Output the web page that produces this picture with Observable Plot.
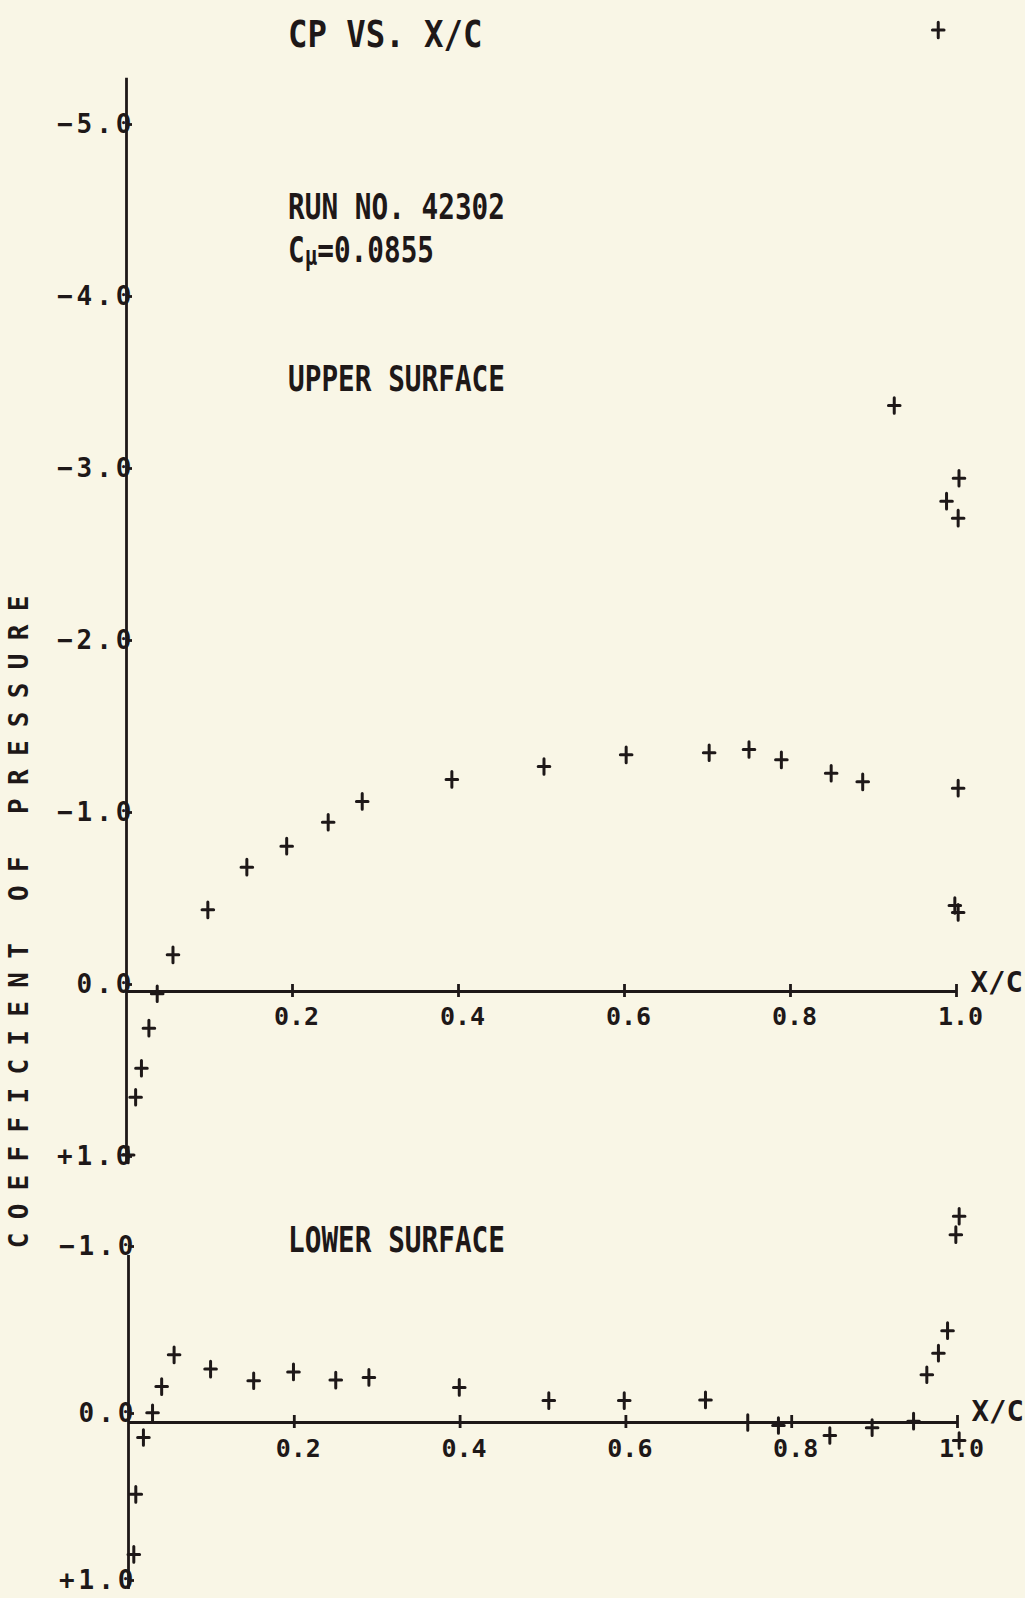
<!DOCTYPE html>
<html>
<head>
<meta charset="utf-8">
<script src="https://cdn.jsdelivr.net/npm/d3@7"></script>
<script src="https://cdn.jsdelivr.net/npm/@observablehq/plot@0.6"></script>
<style>
  html, body { margin: 0; padding: 0; background: #f9f6e6; }
  #page { position: relative; width: 1025px; height: 1598px; overflow: hidden; background: #f9f6e6; color: #1e1818; font-family: "DejaVu Sans Mono", monospace; font-weight: bold; }
  .ann { position: absolute; white-space: nowrap; line-height: 1; transform-origin: 0 0; }
  #upper, #lower { position: absolute; left: 0; }
  #upper { top: 0; }
  #lower { top: 1180px; }
  svg { overflow: visible; }
  svg text { font-weight: bold; }
  g[aria-label="y-axis tick label"] text { letter-spacing: 4px; }
  #ytitle { position: absolute; left: -381px; top: 909px; width: 800px; height: 26px; line-height: 26px; font-size: 26px; text-align: center; letter-spacing: 13.3px; padding-left: 13.3px; box-sizing: border-box; transform: rotate(-90deg); transform-origin: 50% 50%; white-space: nowrap; }
</style>
</head>
<body>
<div id="page">
  <div id="upper"></div>
  <div id="lower"></div>
  <div class="ann" id="title" style="left:288px; top:14.5px; font-size:38px; transform:scaleX(0.85);"></div>
  <div class="ann" id="run" style="left:288px; top:189px; font-size:36px; transform:scaleX(0.77);"></div>
  <div class="ann" id="cmu" style="left:288px; top:232px; font-size:36px; transform:scaleX(0.77);"></div>
  <div class="ann" id="upperLabel" style="left:288px; top:361px; font-size:36px; transform:scaleX(0.77);"></div>
  <div class="ann" id="lowerLabel" style="left:288px; top:1222px; font-size:36px; transform:scaleX(0.77);"></div>
  <div id="ytitle"></div>
</div>
<script>
// ---- text ----
const titleText = "CP VS. X/C";
const runText = "RUN NO. 42302";
const cmuBase = "C";
const cmuSub = "\u03bc";
const cmuValue = "=0.0855";
const upperLabelText = "UPPER SURFACE";
const lowerLabelText = "LOWER SURFACE";
const yTitleText = "COEFFICIENT OF PRESSURE";
const xAxisLabel = "X/C";

// ---- ticks ----
const xTicks = [0.2, 0.4, 0.6, 0.8, 1.0];
const upperYTicks = [-5, -4, -3, -2, -1, 0, 1];
const lowerYTicks = [-1, 0, 1];

// ---- data: upper surface (x/c, Cp) ----
const upperX  = [0.002, 0.011, 0.018, 0.027, 0.037, 0.056, 0.098, 0.145, 0.193, 0.243, 0.284, 0.392,
                 0.503, 0.602, 0.702, 0.750, 0.789, 0.849, 0.887, 1.002, 0.998, 1.002,
                 0.925, 1.003, 0.988, 1.002, 0.978];
const upperCp = [0.95, 0.615, 0.446, 0.213, 0.013, -0.213, -0.475, -0.723, -0.845, -0.984, -1.105, -1.233,
                 -1.308, -1.376, -1.388, -1.407, -1.347, -1.269, -1.219, -1.182, -0.50, -0.46,
                 -3.407, -2.984, -2.851, -2.752, -5.59];

// ---- data: lower surface (x/c, Cp) ----
const lowerX  = [0.0064, 0.0088, 0.018, 0.029, 0.040, 0.055, 0.099, 0.151, 0.199, 0.250, 0.290, 0.399,
                 0.507, 0.598, 0.696, 0.747, 0.784, 0.846, 0.897, 0.947, 0.963, 0.977, 0.988,
                 0.998, 1.002, 1.002];
const lowerCp = [0.79, 0.43, 0.09, -0.058, -0.215, -0.405, -0.32, -0.25, -0.303, -0.254, -0.27, -0.21,
                 -0.131, -0.131, -0.135, 0.0, 0.018, 0.078, 0.031, -0.008, -0.286, -0.415, -0.55,
                 -1.125, -1.235, 0.108];

const ink = "#1e1818";

document.getElementById("title").textContent = titleText;
document.getElementById("run").textContent = runText;
const cmu = document.getElementById("cmu");
cmu.append(cmuBase);
const sub = document.createElement("span");
sub.textContent = cmuSub;
sub.style.fontSize = "0.75em";
sub.style.verticalAlign = "-0.12em";
cmu.append(sub);
cmu.append(cmuValue);
document.getElementById("upperLabel").textContent = upperLabelText;
document.getElementById("lowerLabel").textContent = lowerLabelText;
document.getElementById("ytitle").textContent = yTitleText;

const plusSymbol = {
  draw(ctx, size) {
    const r = Math.sqrt(size / Math.PI);
    const h = r * 1.35;
    ctx.moveTo(-r, 0); ctx.lineTo(r, 0);
    ctx.moveTo(0, -h); ctx.lineTo(0, h);
  }
};

const fmtY = d => d === 0 ? "0.0" : (d > 0 ? "+" : "\u2212") + Math.abs(d).toFixed(1);
const fmtX = d => d.toFixed(1);

function panel(o) {
  const pts = o.xs.map((x, i) => ({x, cp: o.cps[i]}));
  return Plot.plot({
    width: 1025,
    height: o.height,
    marginTop: o.marginTop,
    marginBottom: o.marginBottom,
    marginLeft: o.marginLeft,
    marginRight: o.marginRight,
    x: {domain: [0, 1], axis: null},
    y: {domain: o.yDomain, label: null},
    style: {background: "transparent", color: ink, fontFamily: "DejaVu Sans Mono, monospace", fontSize: "26px", overflow: "visible"},
    marks: [
      Plot.ruleX([0], {y1: o.axisTop, y2: o.yTicks[o.yTicks.length - 1], stroke: ink, strokeWidth: 2.8}),
      Plot.ruleY([0], {x1: 0, x2: 1, stroke: ink, strokeWidth: 2.8}),
      Plot.ruleX(xTicks, {y1: 0, y2: 0, insetTop: -7, insetBottom: -6, stroke: ink, strokeWidth: 2.8}),
      Plot.axisY({ticks: o.yTicks, tickFormat: fmtY, tickSize: -6, tickPadding: -3, dy: o.yLabelDy, strokeWidth: 2.8}),
      Plot.text(xTicks, {x: d => d, y: 0, text: fmtX, dx: 4, dy: o.xLabelDy, fill: ink, fontSize: 25}),
      Plot.text([xAxisLabel], {frameAnchor: "right", y: 0, text: d => d, dx: 14, dy: o.xcDy, textAnchor: "start", fontSize: 29, fill: ink, style: "letter-spacing:-2.5px"}),
      Plot.dot(pts, {x: "x", y: "cp", symbol: plusSymbol, r: 5.8, fill: "none", stroke: ink, strokeWidth: 3, strokeLinecap: "round"})
    ]
  });
}

document.getElementById("upper").append(panel({
  xs: upperX, cps: upperCp, yTicks: upperYTicks, yDomain: [1.0, -5.75],
  height: 1180, marginTop: 2, marginBottom: 17, marginLeft: 126, marginRight: 69,
  axisTop: -5.31, xLabelDy: 25, xcDy: -9, yLabelDy: -7
}));

document.getElementById("lower").append(panel({
  xs: lowerX, cps: lowerCp, yTicks: lowerYTicks, yDomain: [1.0, -1.4],
  height: 418, marginTop: 8.2, marginBottom: 9, marginLeft: 128, marginRight: 68,
  axisTop: -1.0, xLabelDy: 26, xcDy: -11, yLabelDy: -9
}));
</script>
</body>
</html>
